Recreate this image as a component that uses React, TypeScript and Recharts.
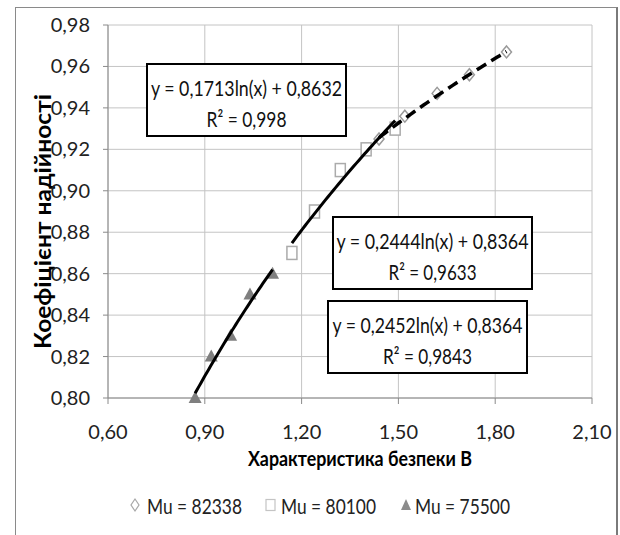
import React from "react";
import { ScatterChart, Scatter, XAxis, YAxis, CartesianGrid } from "recharts";

// axis ticks
const xTicks = [0.6, 0.9, 1.2, 1.5, 1.8, 2.1];
const yTicks = [0.8, 0.82, 0.84, 0.86, 0.88, 0.9, 0.92, 0.94, 0.96, 0.98];

// Mu = 82338
const seriesA_B = [1.44, 1.52, 1.62, 1.72, 1.835];
const seriesA_K = [0.925, 0.936, 0.947, 0.956, 0.967];
// Mu = 80100
const seriesB_B = [1.17, 1.24, 1.32, 1.4, 1.49];
const seriesB_K = [0.87, 0.89, 0.91, 0.92, 0.93];
// Mu = 75500
const seriesC_B = [0.87, 0.92, 0.98, 1.04, 1.11];
const seriesC_K = [0.8, 0.82, 0.83, 0.85, 0.86];

// logarithmic trend lines y = a*ln(x) + b
const trendA = [0.1713, 0.8632];
const trendB = [0.2444, 0.8364];
const trendC = [0.2452, 0.8364];

const FONT = "Lato, 'Open Sans', sans-serif";

const toPoints = (bs: number[], ks: number[]) => bs.map((b, i) => ({ b, k: ks[i] }));

const trendPoints = (coef: number[], bs: number[]) => {
  const from = bs[0];
  const to = bs[bs.length - 1];
  const pts: { b: number; k: number }[] = [];
  const n = 40;
  for (let i = 0; i <= n; i++) {
    const b = from + ((to - from) * i) / n;
    pts.push({ b, k: coef[0] * Math.log(b) + coef[1] });
  }
  return pts;
};

const fmt = (v: number) => v.toFixed(2).replace(".", ",");
const fmtCoef = (v: number) => String(v).replace(".", ",");

const Diamond = ({ cx, cy }: any) => (
  <polygon
    points={`${cx},${cy - 6} ${cx + 5},${cy} ${cx},${cy + 6} ${cx - 5},${cy}`}
    fill="#fff"
    stroke="#9a9a9a"
    strokeWidth={1.5}
  />
);

const Square = ({ cx, cy }: any) => (
  <rect x={cx - 5} y={cy - 6.5} width={10} height={13} fill="#fff" stroke="#ababab" strokeWidth={1.5} />
);

const Triangle = ({ cx, cy }: any) => (
  <polygon points={`${cx},${cy - 7} ${cx + 6.5},${cy + 5} ${cx - 6.5},${cy + 5}`} fill="#7f7f7f" />
);

const NoDot = () => <g />;

const XTick = ({ x, y, payload }: any) => (
  <text x={x} y={y} dy="0.71em" textAnchor="middle" fontFamily={FONT} fontSize={20} fill="#222">
    {fmt(payload.value)}
  </text>
);

const YTick = ({ x, y, payload }: any) => (
  <text x={x} y={y} dy="0.35em" textAnchor="end" fontFamily={FONT} fontSize={20} fill="#222">
    {fmt(payload.value)}
  </text>
);

const YTitle = ({ viewBox }: any) => {
  const cx = viewBox.x + 42;
  const cy = viewBox.y + viewBox.height / 2 + 10;
  return (
    <text
      x={cx}
      y={cy}
      transform={`rotate(-90 ${cx} ${cy})`}
      textAnchor="middle"
      dominantBaseline="central"
      fontFamily={FONT}
      fontWeight="bold"
      fontSize={22}
      textLength={255}
      lengthAdjust="spacingAndGlyphs"
      fill="#000"
    >
      Коефіцієнт надійності
    </text>
  );
};

const XTitle = ({ viewBox }: any) => {
  const cx = viewBox.x + viewBox.width / 2 + 10;
  const cy = viewBox.y + 59;
  return (
    <text
      x={cx}
      y={cy}
      textAnchor="middle"
      dominantBaseline="central"
      fontFamily={FONT}
      fontWeight="bold"
      fontSize={21}
      textLength={224}
      lengthAdjust="spacingAndGlyphs"
      fill="#000"
    >
      Характеристика безпеки В
    </text>
  );
};

// trend-line label box: equation on top, R² below
const EqBox = ({ x, y, w, coef, r2, eqLen, r2Len }: any) => {
  const cx = x + w / 2;
  return (
    <g>
      <rect x={x} y={y} width={w} height={72} fill="#fff" stroke="#000" strokeWidth={2} />
      <text
        x={cx}
        y={y + 23}
        textAnchor="middle"
        dominantBaseline="central"
        fontFamily={FONT}
        fontSize={22}
        fill="#111"
        textLength={eqLen}
        lengthAdjust="spacingAndGlyphs"
      >
        {`y = ${fmtCoef(coef[0])}ln(x) + ${fmtCoef(coef[1])}`}
      </text>
      <text
        x={cx}
        y={y + 54}
        textAnchor="middle"
        dominantBaseline="central"
        fontFamily={FONT}
        fontSize={22}
        fill="#111"
        textLength={r2Len}
        lengthAdjust="spacingAndGlyphs"
      >
        {`R² = ${r2}`}
      </text>
    </g>
  );
};

const LegendLabel = ({ x, children }: any) => (
  <text
    x={x}
    y={505}
    dominantBaseline="central"
    fontFamily={FONT}
    fontSize={22}
    fill="#222"
    textLength={95}
    lengthAdjust="spacingAndGlyphs"
  >
    {children}
  </text>
);

export default function App() {
  const dataA = toPoints(seriesA_B, seriesA_K);
  const dataB = toPoints(seriesB_B, seriesB_K);
  const dataC = toPoints(seriesC_B, seriesC_K);

  return (
    <div style={{ position: "fixed", left: 0, top: 0, width: 620, height: 535, background: "#fff", overflow: "hidden" }}>
      <div
        style={{
          position: "absolute",
          left: 15,
          top: 7,
          width: 603,
          height: 540,
          boxSizing: "border-box",
          borderTop: "1.5px solid #8a8a8a",
          borderLeft: "1.5px solid #8a8a8a",
          borderRight: "2px solid #7a7a7a",
        }}
      />
      <div style={{ position: "absolute", left: 0, top: 0 }}>
        <ScatterChart width={620} height={535} margin={{ top: 25, right: 28, left: 0, bottom: 0 }}>
          <CartesianGrid stroke="#c4c4c4" strokeWidth={1} />
          <XAxis
            type="number"
            dataKey="b"
            domain={[0.6, 2.1]}
            ticks={xTicks}
            interval={0}
            height={137}
            axisLine={{ stroke: "#8a8a8a" }}
            tickLine={{ stroke: "#8a8a8a" }}
            tickSize={6}
            tickMargin={21}
            tick={<XTick />}
            label={{ content: <XTitle /> }}
          />
          <YAxis
            type="number"
            dataKey="k"
            domain={[0.8, 0.98]}
            ticks={yTicks}
            interval={0}
            width={108}
            axisLine={{ stroke: "#8a8a8a" }}
            tickLine={{ stroke: "#8a8a8a" }}
            tickSize={5}
            tickMargin={13}
            tick={<YTick />}
            label={{ content: <YTitle /> }}
          />
          <Scatter name="Mu = 82338" data={dataA} shape={<Diamond />} isAnimationActive={false} />
          <Scatter name="Mu = 80100" data={dataB} shape={<Square />} isAnimationActive={false} />
          <Scatter name="Mu = 75500" data={dataC} shape={<Triangle />} isAnimationActive={false} />
          <Scatter
            data={trendPoints(trendA, seriesA_B)}
            shape={<NoDot />}
            line={{ stroke: "#000", strokeWidth: 3.5, strokeDasharray: "11 6" }}
            isAnimationActive={false}
          />
          <Scatter
            data={trendPoints(trendB, seriesB_B)}
            shape={<NoDot />}
            line={{ stroke: "#000", strokeWidth: 3 }}
            isAnimationActive={false}
          />
          <Scatter
            data={trendPoints(trendC, seriesC_B)}
            shape={<NoDot />}
            line={{ stroke: "#000", strokeWidth: 3 }}
            isAnimationActive={false}
          />
        </ScatterChart>
      </div>

      <svg style={{ position: "absolute", left: 0, top: 0 }} width={620} height={535}>
        <EqBox x={147} y={64} w={199} coef={trendA} r2="0,998" eqLen={191} r2Len={80} />
        <EqBox x={333} y={217} w={199} coef={trendB} r2="0,9633" eqLen={192} r2Len={88} />
        <EqBox x={328} y={301} w={199} coef={trendC} r2="0,9843" eqLen={190} r2Len={89} />

        {/* legend */}
        <polygon points="135,499 139,505 135,511 131,505" fill="#fff" stroke="#a8a8a8" strokeWidth={1.2} />
        <LegendLabel x={147}>Mu = 82338</LegendLabel>
        <rect x={266} y={499.5} width={9} height={11} fill="#fff" stroke="#c4c4c4" strokeWidth={1.2} />
        <LegendLabel x={281}>Mu = 80100</LegendLabel>
        <polygon points="406,499 411,510 401,510" fill="#8c8c8c" />
        <LegendLabel x={415}>Mu = 75500</LegendLabel>
      </svg>
    </div>
  );
}
